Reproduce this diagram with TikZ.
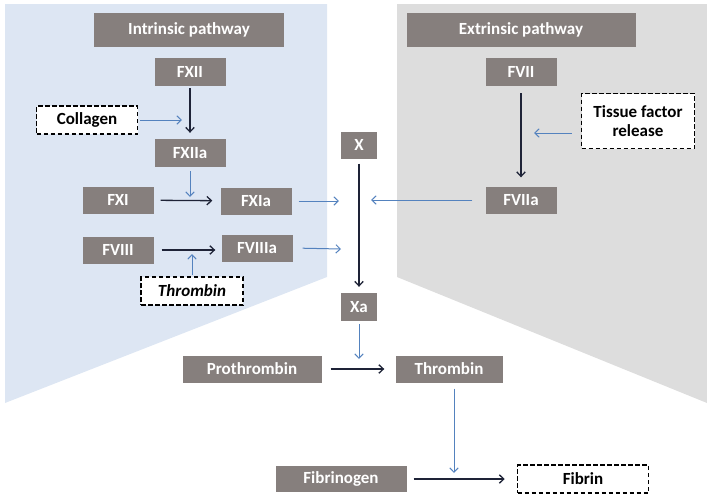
\documentclass[tikz,border=0pt]{standalone}
\usepackage{fontspec}
\setmainfont{Carlito}
\usetikzlibrary{arrows.meta,positioning}
\definecolor{boxcolor}{RGB}{134,127,125}
\definecolor{intcolor}{RGB}{221,230,243}
\definecolor{extcolor}{RGB}{221,221,221}
\definecolor{sigcolor}{RGB}{84,130,190}
\definecolor{convcolor}{RGB}{30,35,55}
\tikzset{
  factor/.style  = {fill=boxcolor, text=white, font=\fontsize{17}{19}\selectfont\bfseries,
                    minimum width=71pt, minimum height=28pt, inner sep=0pt},
  title/.style   = {factor, minimum height=34pt},
  trigger/.style = {draw=black, fill=white, text=black, dash pattern=on 4.5pt off 2.5pt,
                    line width=1.5pt, font=\fontsize{17}{19}\selectfont\bfseries,
                    minimum height=28pt, inner sep=0pt, align=center},
  conv/.style    = {-{Straight Barb[length=4.5pt,width=8.5pt]}, line width=1.3pt, draw=convcolor},
  act/.style     = {-{Straight Barb[length=4.5pt,width=8.5pt]}, line width=1pt, draw=sigcolor}
}

\begin{document}
\begin{tikzpicture}[x=1pt,y=-1pt]
\useasboundingbox (0,0) rectangle (707,496);

% --- pathway backgrounds ---
\fill[intcolor] (5,4) -- (327,4) -- (327,277) -- (5,403) -- cycle;
\fill[extcolor] (397,4) -- (707,4) -- (707,403) -- (397,277) -- cycle;

% --- titles ---
\node[title, minimum width=190pt] (intr) at (189,30) {Intrinsic pathway};
\node[title, minimum width=229pt] (extr) at (521,30) {Extrinsic pathway};

% --- intrinsic factors ---
\node[factor] (fxii)   at (190,72)  {FXII};
\node[factor] (fxiia)  at (190,153) {FXIIa};
\node[factor, minimum height=27pt] (fxi)    at (118,200) {FXI};
\node[factor, minimum height=27pt] (fxia)   at (256,201) {FXIa};
\node[factor, minimum height=27pt] (fviii)  at (118,250) {FVIII};
\node[factor, minimum height=27pt] (fviiia) at (257,248) {FVIIIa};

% --- extrinsic factors ---
\node[factor] (fvii)  at (521,72)  {FVII};
\node[factor, minimum height=27pt] (fviia) at (521,200) {FVIIa};

% --- common pathway ---
\node[factor, minimum width=36pt, minimum height=27pt] (fx)  at (359,145) {X};
\node[factor, minimum width=36pt] (fxa) at (359,307) {Xa};
\node[factor, minimum width=139pt, minimum height=27pt] (proth) at (252,369) {Prothrombin};
\node[factor, minimum width=107pt, minimum height=27pt] (thr)   at (449,369) {Thrombin};
\node[factor, minimum width=131pt, minimum height=26pt] (fibg)  at (341,479) {Fibrinogen};

% --- triggers (dashed) ---
\node[trigger, minimum width=101pt] (coll)   at (87,120)  {Collagen};
\node[trigger, minimum width=113pt, minimum height=55pt] (tissue) at (638,121) {Tissue factor\\release};
\node[trigger, minimum width=102pt, font=\fontsize{17}{19}\selectfont\bfseries\itshape] (thrd) at (192,291) {Thrombin};
\node[trigger, minimum width=131pt] (fibrin) at (583,479) {Fibrin};

% --- targets of the activating arrows ---
\coordinate (c1) at (182,120);
\coordinate (c2) at (190,197);
\coordinate (c3) at (339,201);
\coordinate (c4) at (341,249);
\coordinate (c5) at (192,254);
\coordinate (c6) at (359,359);
\coordinate (c7) at (454,473);
\coordinate (c8) at (534,133);
\coordinate (c9) at (371,200);

% --- conversions ---
\draw[conv, shorten <=2pt, shorten >=6pt] (fxii) -- (fxiia);
\draw[conv, shorten <=7pt, shorten >=8pt] (fxi) -- (fxia);
\draw[conv, shorten <=8pt, shorten >=6pt] (fviii.east) -- (fviiia.west |- fviii.east);
\draw[conv, shorten <=7pt, shorten >=9pt] (fvii) -- (fviia);
\draw[conv, shorten <=5pt, shorten >=6pt] (fx) -- (fxa);
\draw[conv, shorten <=9pt, shorten >=11pt] (proth) -- (thr);
\draw[conv, shorten <=7pt, shorten >=12pt] (fibg) -- (fibrin);

% --- activations ---
\draw[act, shorten <=2pt] (coll.east) -- (c1);
\draw[act, shorten <=4pt] (fxiia.south) -- (c2);
\draw[act, shorten <=7pt] (fxia.east) -- (c3);
\draw[act, shorten <=10pt] (fviiia.east) -- (c4);
\draw[act, shorten <=1pt] (thrd.north) -- (c5);
\draw[act, shorten <=3pt] (fxa.south) -- (c6);
\draw[act, shorten <=6pt] (c7 |- thr.south) -- (c7);
\draw[act, shorten <=9pt] (tissue.west |- c8) -- (c8);
\draw[act, shorten <=13pt] (fviia.west) -- (c9);

\end{tikzpicture}
\end{document}
